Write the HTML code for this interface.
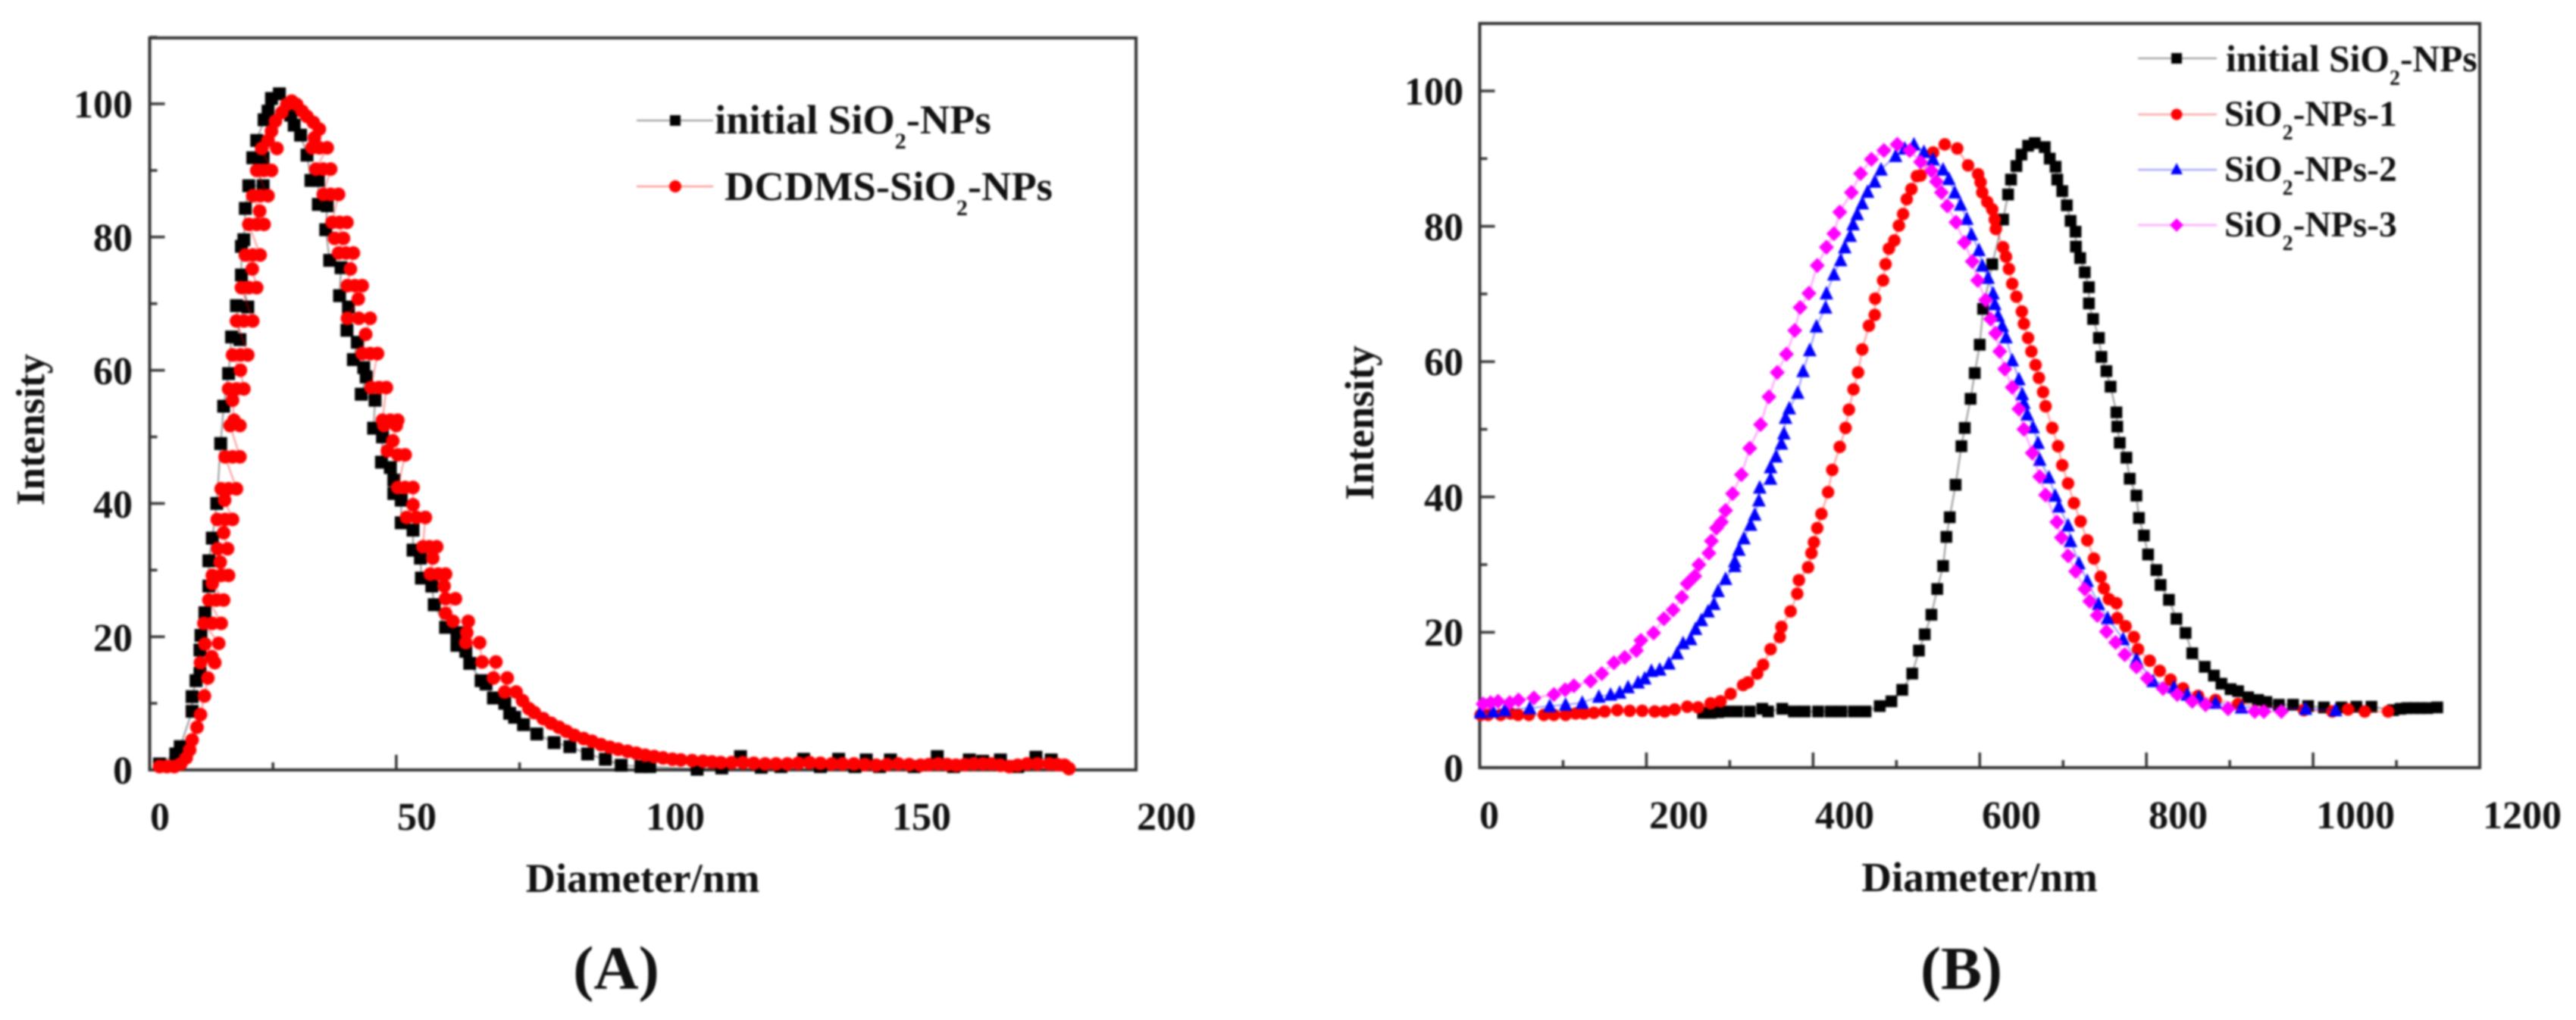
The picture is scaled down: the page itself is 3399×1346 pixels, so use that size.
<!DOCTYPE html>
<html lang="en">
<head>
<meta charset="utf-8">
<title>Particle size distribution of SiO2 nanoparticles</title>
<style>
html,body{margin:0;padding:0;background:#fff;width:3399px;height:1346px;overflow:hidden}
svg{display:block;filter:blur(1.4px)}
text{font-family:"Liberation Serif","DejaVu Serif",serif;font-weight:bold;fill:#111}
.t{font-size:52px}
.lb{font-size:47.5px}
.la{font-size:54.5px}
</style>
</head>
<body>
<svg id="fig" xmlns="http://www.w3.org/2000/svg" width="3399" height="1346" viewBox="0 0 3399 1346">
<rect width="3399" height="1346" fill="#fff"/>
<g id="panelA">
<rect x="197.5" y="50" width="1301.5" height="966" fill="none" stroke="#333" stroke-width="4"/>
<g id="ticksA"></g>
<g id="marksA"></g>
<g class="t" text-anchor="end">
<text x="175" y="155">100</text>
<text x="175" y="331">80</text>
<text x="175" y="507">60</text>
<text x="175" y="683">40</text>
<text x="175" y="859">20</text>
<text x="175" y="1034">0</text>
</g>
<g class="t" text-anchor="middle">
<text x="211" y="1095">0</text>
<text x="550" y="1095">50</text>
<text x="891" y="1095">100</text>
<text x="1216" y="1095">150</text>
<text x="1539" y="1095">200</text>
</g>
<text font-size="54.5" x="808" y="1177" text-anchor="middle" transform="translate(40 0)">Diameter/nm</text>
<text font-size="53" text-anchor="middle" transform="translate(58 567) rotate(-90)">Intensity</text>
<text x="813" y="1305" text-anchor="middle" font-size="82">(A)</text>
<g>
<g>
<line x1="840" x2="941" y1="159" y2="159" stroke="#000" stroke-opacity=".35" stroke-width="2.5"/>
<rect x="884" y="152" width="14" height="14" fill="#000"/>
<text class="la" x="943" y="176">initial SiO<tspan font-size="30" dy="20">2</tspan><tspan dy="-20">-NPs</tspan></text>
</g>
<g>
<line x1="840" x2="941" y1="246" y2="246" stroke="#f00" stroke-opacity=".4" stroke-width="2.5"/>
<circle cx="891" cy="246" r="8" fill="#f00"/>
<text class="la" x="956" y="264">DCDMS-SiO<tspan font-size="30" dy="20">2</tspan><tspan dy="-20">-NPs</tspan></text>
</g>
</g>
</g>
<g id="panelB">
<rect x="1952.5" y="31" width="1319.5" height="982" fill="none" stroke="#333" stroke-width="4"/>
<g id="ticksB"></g>
<g id="marksB"></g>
<g class="t" text-anchor="end">
<text x="1931" y="138">100</text>
<text x="1931" y="317">80</text>
<text x="1931" y="495">60</text>
<text x="1931" y="674">40</text>
<text x="1931" y="852">20</text>
<text x="1931" y="1031">0</text>
</g>
<g class="t" text-anchor="middle">
<text x="1965" y="1093">0</text>
<text x="2215" y="1093">200</text>
<text x="2434" y="1093">400</text>
<text x="2654" y="1093">600</text>
<text x="2874" y="1093">800</text>
<text x="3108" y="1093">1000</text>
<text x="3328" y="1093">1200</text>
</g>
<text x="2612" y="1176" text-anchor="middle" font-size="55">Diameter/nm</text>
<text text-anchor="middle" font-size="54" transform="translate(1812 558) rotate(-90)">Intensity</text>
<text x="2588" y="1305" text-anchor="middle" font-size="81">(B)</text>
<g>
<g>
<line x1="2821" x2="2925" y1="77" y2="77" stroke="#000" stroke-opacity=".35" stroke-width="2.5"/>
<rect x="2865" y="70" width="14" height="14" fill="#000"/>
<text font-size="49.5" x="2937" y="94">initial SiO<tspan font-size="28" dy="18">2</tspan><tspan dy="-18">-NPs</tspan></text>
</g>
<g>
<line x1="2821" x2="2925" y1="151" y2="151" stroke="#f00" stroke-opacity=".35" stroke-width="2.5"/>
<circle cx="2872" cy="151" r="7.5" fill="#f00"/>
<text class="lb" x="2935" y="166">SiO<tspan font-size="28" dy="18">2</tspan><tspan dy="-18">-NPs-1</tspan></text>
</g>
<g>
<line x1="2821" x2="2925" y1="224" y2="224" stroke="#00f" stroke-opacity=".35" stroke-width="2.5"/>
<polygon points="2872,215 2880,230 2864,230" fill="#00f"/>
<text class="lb" x="2935" y="239">SiO<tspan font-size="28" dy="18">2</tspan><tspan dy="-18">-NPs-2</tspan></text>
</g>
<g>
<line x1="2821" x2="2925" y1="297" y2="297" stroke="#f0f" stroke-opacity=".35" stroke-width="2.5"/>
<polygon points="2872,288 2881,297 2872,306 2863,297" fill="#f0f"/>
<text class="lb" x="2935" y="312">SiO<tspan font-size="28" dy="18">2</tspan><tspan dy="-18">-NPs-3</tspan></text>
</g>
</g>
</g>
</svg>
<script>
// Panel A: [diameter nm, intensity]
const initialA = [[2,.9],[5.3,2.4],[6.2,3.5],[8.6,8.8],[8.6,11],[9.4,13.4],[10.2,14.5],[10.2,18],[10.4,20.2],[11.2,23.6],[12,27.6],[12,31.4],[12.7,34.8],[13.6,40],[14.4,49],[15,54.6],[16,59.5],[16.6,65],[18.3,64.6],[17.6,69.7],[19.9,69.5],[18.6,74.3],[18.6,78.6],[19.1,79.6],[19.4,84.3],[20.1,87.7],[23,87.7],[20.9,91.9],[23,91.9],[21.7,94.5],[23.2,97.6],[24,98.9],[24.7,100.8],[26.3,101.5],[28.6,98.3],[29.3,96.8],[30.6,95.3],[31.9,92.3],[32.7,88.5],[34.2,88.5],[34.2,84.9],[36,84.7],[35.7,81.1],[36.5,76.5],[38.8,75.4],[38.5,71.2],[40.3,69.5],[40,66],[42.1,64.2],[41.3,61.6],[43.4,60.4],[43.9,59],[42.9,56.4],[45.7,55.5],[45.4,51.3],[47.2,50],[47,46.2],[48.8,45.4],[49.5,43.5],[49.5,41.5],[51,40.5],[51,37.1],[53.4,36],[53.4,33],[54.9,31.8],[55.1,28.8],[57.2,27.6],[57.7,24.8],[60,21.4],[62.3,20.6],[62.3,18.7],[64.1,17.8],[64.9,16],[67.2,13.4],[68.2,12.9],[69.7,10.8],[72,10],[73,8.5],[74,7.9],[75.8,6.8],[78.5,5.4],[82,4.1],[85.2,3.5],[88.8,2.4],[92.4,1.6],[95.6,.7],[99.6,.5],[101.4,.5],[111,.1],[116,.3],[119.8,2],[124,.4],[128,.5],[132.6,1.6],[136,.5],[139.7,1.6],[143,.5],[145.3,1.5],[148,.5],[150.2,1.5],[155,.5],[159.7,2],[163,.5],[166.2,1.5],[168.9,1.3],[172.5,1.5],[176,.5],[179.7,1.9],[182.8,1.5]];
const dcdmsA = [[2,.5],[3.5,.5],[5,.5],[6.3,.9],[7.4,1.8],[8.1,3],[8.6,4.5],[9.6,6.4],[10.3,8.3],[11.1,11.1],[11.8,13.8],[10.3,16.1],[13.2,16.1],[12.6,17],[11.2,18.9],[14,19],[11,22],[12.7,22],[14.5,22],[12,25.5],[13.5,25.5],[15,25.5],[12.7,28],[12.7,29.2],[14.5,29.2],[16,29.2],[14.3,31.2],[13.8,33.2],[15.8,33.2],[15,35.6],[13.7,37.6],[15.3,37.6],[16.8,37.6],[15.2,40.5],[14.5,42.2],[16,42.2],[17.6,42.2],[15.3,47],[16.8,47],[18.3,47],[16.3,51.7],[18.3,51.7],[17.1,52.5],[16.8,55.5],[16,57.2],[17.6,57.2],[19.1,57.2],[18.4,60],[16.8,62.3],[18.4,62.3],[19.9,62.3],[17.6,67.4],[19.1,67.4],[20.9,67.4],[18.6,72.4],[20.1,72.4],[21.7,72.4],[20.8,75.2],[19.4,77.3],[20.9,77.3],[22.4,77.3],[20.1,81.9],[21.7,81.9],[23.2,81.9],[22.3,83.9],[20.9,86.2],[22.4,86.2],[24,86.2],[21.7,90],[23.2,90],[24.7,90],[22.7,93.3],[25.8,93.3],[24,94.5],[24.7,95.9],[25.5,97.4],[26.8,98.7],[27.8,99.9],[28.8,100.4],[29.8,99.9],[30.9,98.9],[31.9,98.1],[33.2,97.2],[34.4,96.2],[33.4,94.9],[32.9,93.4],[34.4,93.4],[36,93.4],[33.7,90.2],[35.2,90.2],[36.7,90.2],[35.2,86.4],[36.7,86.4],[38.3,86.4],[37,82.2],[38.5,82.2],[40,82.2],[37.5,79.8],[39.3,79.8],[38.3,77.6],[39.8,77.6],[41.3,77.6],[40.7,75.2],[40.1,72.7],[41.6,72.7],[43.1,72.7],[42.3,70.7],[40.1,67.8],[42.4,67.8],[44.7,67.8],[43.8,65.4],[43.1,62.5],[44.7,62.5],[46.2,62.5],[44.9,57.4],[46.5,57.4],[48,57.4],[47.2,52.5],[48.8,52.5],[50.3,52.5],[47.5,51.7],[50,51.7],[49.3,49.4],[48.2,47.9],[50.3,47.3],[51.8,47.3],[50.3,42.4],[51.8,42.4],[53.4,42.4],[53.4,39.8],[52.1,37.9],[54.1,37.9],[55.9,37.9],[55.4,33.5],[56.7,33.5],[58.2,33.5],[57.4,31.8],[56.9,29.4],[58.5,29.4],[60,29.4],[59.7,27.6],[60,25.7],[62,25.7],[60,23.5],[61.5,22.3],[64.6,22.3],[64.3,20.6],[64.1,19.1],[66.9,19.1],[67.4,16.2],[70.2,16.2],[69.7,13.8],[72.5,13.8],[72,11.7],[74.3,11.7],[75.6,10.4],[76.9,9.2],[78,8.6],[79.8,7.7],[81.4,7],[83,6.4],[84.5,5.8],[86.1,5.2],[88,4.7],[89.7,4.3],[91.5,3.8],[93.3,3.4],[95,3.1],[96.9,2.8],[98.7,2.5],[100.5,2.2],[102.3,2],[104.1,1.8],[106,1.6],[107.7,1.5],[110,1.4],[112.2,1.3],[114,1.2],[115.8,1.1],[118,1.1],[120.3,1.1],[122.5,1],[124.8,.9],[127,.9],[129.3,.9],[131.5,1],[133.8,1.1],[136,1],[138.3,.9],[140.5,.9],[142.8,.9],[145,.8],[147.3,.7],[149.5,.8],[151.8,.9],[154,.8],[156.3,.7],[158,.8],[159.9,.9],[161.7,.8],[163.5,.7],[165.3,.8],[167.1,.9],[169,.9],[170.7,.9],[172.5,.7],[174.3,.5],[176,.7],[177.9,.9],[180,.9],[182.4,.9],[184,.8],[185.5,.7],[186.4,.2]];
// Panel B: [diameter nm, intensity]
const initialB = [[268,8.1],[277,8.1],[286,8.2],[295,8.3],[309,8.3],[324,8.3],[339,8.7],[346,8.3],[363,8.7],[377,8.3],[390,8.3],[406,8.3],[421,8.3],[434,8.3],[449,8.3],[463,8.3],[480,9.1],[494,9.8],[507,11.5],[519,13.9],[527,17.3],[534,19.7],[542,22.6],[549,26.4],[556,29.8],[560,34.1],[564,37],[571,41.8],[578,47.5],[582,50.2],[589,54.5],[594,58.3],[600,62.5],[604,67.8],[615,74.4],[628,81],[634,84.7],[637.5,86.9],[644,88.9],[650,90.6],[658,91.9],[666,92.3],[678,91.7],[684,90],[691,88.8],[693,86.9],[699,85.2],[704.5,83.1],[709,80.8],[715,79.2],[715.4,77],[720.5,75.3],[726,73.2],[731,71],[731,68.6],[736,66.3],[743,63.5],[746,60.7],[752,58.6],[757,56.3],[764,52.5],[765,50.4],[768,48],[776,45.8],[780,42.7],[788,40.2],[791,36.9],[797,34.3],[802,31.5],[812,29.2],[817,27],[827,24.8],[836,22],[847,19.9],[855,16.9],[870,14.9],[881,13.6],[890,12.4],[901,11.6],[910,11.3],[922,10.4],[934,10],[944,9.7],[959,9.3],[976,9.3],[994,9.1],[1013,8.9],[1034,8.9],[1052,9],[1070,9],[1096,8.5],[1105,8.7],[1113,8.8],[1121,8.8],[1129,8.8],[1137,8.8],[1149,8.9]];
const sample1B = [[1,7.8],[10,7.8],[25,7.8],[37,8],[46,7.8],[59,7.8],[77,7.8],[89,7.8],[103,7.8],[115,8],[125,8],[137,8.1],[150,8.3],[165,8.5],[180,8.4],[195,8.4],[210,8.3],[222,8.3],[234,8.6],[249,9],[262,8.9],[277,9.5],[289,9.8],[301,10.9],[316,12.2],[322,12.6],[333,13.9],[340,15.2],[349,17.5],[360,19.3],[362,20.8],[373,23.1],[381,25.7],[383,27.7],[394,29.6],[398,31.7],[401,33.3],[405,35.4],[410,37.5],[418,40.7],[423,44],[432,47.4],[439,50.2],[443,52.9],[448.5,55.9],[454,58.4],[459,61.8],[467,65.3],[474,66.9],[474.5,69.3],[484,72],[487,74.4],[491,76.7],[497.5,77.9],[503,80.1],[508,81.8],[512.4,84],[518,85.5],[524.5,87.4],[529,87.5],[544,90.9],[558,92.1],[573,91.5],[586,89],[598,87.7],[601,86.5],[603,85],[609,83.6],[615,82.5],[618,81],[619.3,79.6],[628,76.9],[631.5,75.5],[635,73.7],[639,71.5],[644,69.6],[650.5,67.4],[653,65.6],[658,63.5],[662,61.5],[667,59.5],[671,57.6],[676,55.5],[679,53.4],[687,50.2],[694,47.5],[699,44.7],[706,42],[713,39.1],[721,36.4],[729,33.6],[737,30.9],[745,28.2],[749,26.5],[755,24.9],[764,24.3],[765,22.1],[775,20.9],[785,19.3],[790,17.5],[804,15.8],[816,14.3],[829,13],[844,11.7],[862,10.6],[883,10],[910,9.4],[989,8.5],[1023,8.3],[1042,8.6],[1062,8.3],[1090,8.3]];
const sample2B = [[1,8.2],[16,8.3],[30,8.5],[60,8.8],[84,9.1],[103,9.3],[123,9.6],[143,10.5],[157,10.8],[168,11.1],[178,11.9],[190,12.6],[198,13.2],[206,14.3],[216,14.5],[227,15.4],[237,16.9],[244,18.4],[253,19],[259,20.5],[266,21.8],[274,23.1],[281,24.2],[286,26.1],[295,27.9],[306,29.8],[306,30.5],[311,32.2],[317,33.9],[325,35.9],[330,37.4],[335,39.5],[336,41.4],[349,42.7],[349,44.4],[355.5,46],[362,47.9],[365,49.4],[367,51.7],[371.5,53.1],[381.5,55.4],[388,58.6],[396,61.7],[404,65.2],[415,68],[416,70.1],[425,72.9],[433,75],[438,76.9],[444.5,78.6],[448,80.3],[453,81.8],[459,83.4],[465.4,85.1],[474,86.6],[481.5,88.4],[499,90.4],[510,91.5],[521,92.1],[533,91],[544,89.9],[556,88.4],[563,87],[570,85],[577,83.2],[584.5,81.1],[590,78.8],[599,76.5],[603,74.2],[610,72.4],[616,70.1],[618,68.5],[622,66.8],[627,65.3],[631.5,63.6],[639,60.2],[647,57.4],[651,55.2],[653,53.9],[657,52.2],[664,50.3],[670,48],[672,45.5],[683,42.9],[690.5,40.2],[695,38.6],[706,35.8],[709,33.5],[719,30.2],[729,27.6],[742.5,24.2],[753.4,22.1],[772,19],[788,16],[808,12.8],[833,11.9],[849,10.8],[863,10.4],[883,9.6],[914,8.9],[991,8.7],[1027,8.5]];
const sample3B = [[4,9.4],[13,9.6],[22,9.8],[36,9.6],[46.5,10],[65,10.3],[89,10.8],[102.5,11.5],[113,12.1],[133,12.8],[146.5,13.9],[161,15.5],[174,16.3],[188,17.3],[193.4,18.8],[208.6,19.9],[221,22],[232,23.3],[242.5,25.2],[249,27.2],[258,28.3],[263,30],[275,31.7],[278,33.5],[284,35.4],[290,36.3],[295,38],[303.4,40.5],[314,43.3],[324,47.2],[337,50.7],[347,54.8],[357,58.4],[368,61.1],[378,64.6],[384.5,68],[395,70.1],[405,74.2],[416,76.9],[425,78.9],[432,82.1],[446,85],[457,87.8],[470,89.9],[485,91.2],[501,92.1],[516,91.2],[529,89.5],[542,88.2],[548,86.6],[554,85],[561,83],[571.5,80.6],[581.5,77.6],[591,74.8],[597.5,72],[607,69.1],[613,66.3],[619,64.2],[624,61.5],[630,58.9],[639,56.2],[647,53],[653,50],[663,46.5],[672,43],[679,40.3],[692.5,36.3],[698,34],[706,31.3],[715,29],[726,26.4],[732,24.6],[741,22.5],[752,20.1],[763,18.5],[774,16.7],[788,14.9],[801,13.2],[820,11.7],[837,10.8],[855,9.8],[871,9.3],[898,8.7],[930,8.3],[941,8.3],[962,8.3]];
const xMajorA = [0,50,100,150,200];
const xMinorA = [25,75,125,175];
const yMajorA = [0,20,40,60,80,100];
const yMinorA = [10,30,50,70,90,110];
const xMajorB = [0,200,400,600,800,1000,1200];
const xMinorB = [100,300,500,700,900,1100];
const yMajorB = [0,20,40,60,80,100];
const yMinorB = [10,30,50,70,90,110];

const NS = 'http://www.w3.org/2000/svg';
const xA = function (v) { return 197.5 + v * 6.5075; };
const yA = function (v) { return 1016 - v * 8.79; };
const xB = function (v) { return 1952.5 + v * 1.0996; };
const yB = function (v) { return 1013 - v * 8.93; };

function make(tag, parent) {
  const el = document.createElementNS(NS, tag);
  parent.appendChild(el);
  return el;
}

function drawTicks(host, xs, ys, len, xScale, yScale) {
  xs.forEach(function (v) {
    const t = make('line', host);
    
    
    t.setAttribute('x1', xScale(v));
    t.setAttribute('x2', xScale(v));
    t.setAttribute('y1', yScale(0));
    t.setAttribute('y2', yScale(0) - len);
    t.setAttribute('stroke', '#333');
    t.setAttribute('stroke-width', '3.5');
  });
  ys.forEach(function (v) {
    const t = make('line', host);
    
    
    t.setAttribute('x1', xScale(0));
    t.setAttribute('x2', xScale(0) + len);
    t.setAttribute('y1', yScale(v));
    t.setAttribute('y2', yScale(v));
    t.setAttribute('stroke', '#333');
    t.setAttribute('stroke-width', '3.5');
  });
}

function drawSeries(host, series, name, color, shape, size, xScale, yScale) {
  const g = make('g', host);
  
  
  const line = make('polyline', g);
  
  
  line.setAttribute('fill', 'none');
  line.setAttribute('stroke', color);
  line.setAttribute('stroke-opacity', '0.35');
  line.setAttribute('stroke-width', '2.5');
  line.setAttribute('points', series.map(function (p) { return xScale(p[0]) + ',' + yScale(p[1]); }).join(' '));
  series.forEach(function (p) {
    const cx = xScale(p[0]);
    const cy = yScale(p[1]);
    let m;
    if (shape === 'square') {
      m = make('rect', g);
      m.setAttribute('x', cx - size / 2);
      m.setAttribute('y', cy - size / 2);
      m.setAttribute('width', size);
      m.setAttribute('height', size);
    } else if (shape === 'circle') {
      m = make('circle', g);
      m.setAttribute('cx', cx);
      m.setAttribute('cy', cy);
      m.setAttribute('r', size / 2);
    } else if (shape === 'triangle') {
      m = make('polygon', g);
      m.setAttribute('points', cx + ',' + (cy - size * 0.55) + ' ' + (cx + size / 2) + ',' + (cy + size * 0.45) + ' ' + (cx - size / 2) + ',' + (cy + size * 0.45));
    } else {
      m = make('polygon', g);
      m.setAttribute('points', cx + ',' + (cy - size / 2) + ' ' + (cx + size / 2) + ',' + cy + ' ' + cx + ',' + (cy + size / 2) + ' ' + (cx - size / 2) + ',' + cy);
    }
    
    
    m.setAttribute('fill', color);
  });
}

const ticksA = document.getElementById('ticksA');
const ticksB = document.getElementById('ticksB');
const marksA = document.getElementById('marksA');
const marksB = document.getElementById('marksB');
drawTicks(ticksA, xMajorA, yMajorA, 20, xA, yA);
drawTicks(ticksA, xMinorA, yMinorA, 10, xA, yA);
drawTicks(ticksB, xMajorB, yMajorB, 20, xB, yB);
drawTicks(ticksB, xMinorB, yMinorB, 10, xB, yB);
drawSeries(marksA, initialA, 'initial-a', '#000', 'square', 17, xA, yA);
drawSeries(marksA, dcdmsA, 'dcdms', '#f00', 'circle', 18, xA, yA);
drawSeries(marksB, initialB, 'initial-b', '#000', 'square', 15.5, xB, yB);
drawSeries(marksB, sample1B, 'sample-1', '#f00', 'circle', 16.5, xB, yB);
drawSeries(marksB, sample2B, 'sample-2', '#00f', 'triangle', 18, xB, yB);
drawSeries(marksB, sample3B, 'sample-3', '#f0f', 'diamond', 20, xB, yB);
</script>
</body>
</html>
